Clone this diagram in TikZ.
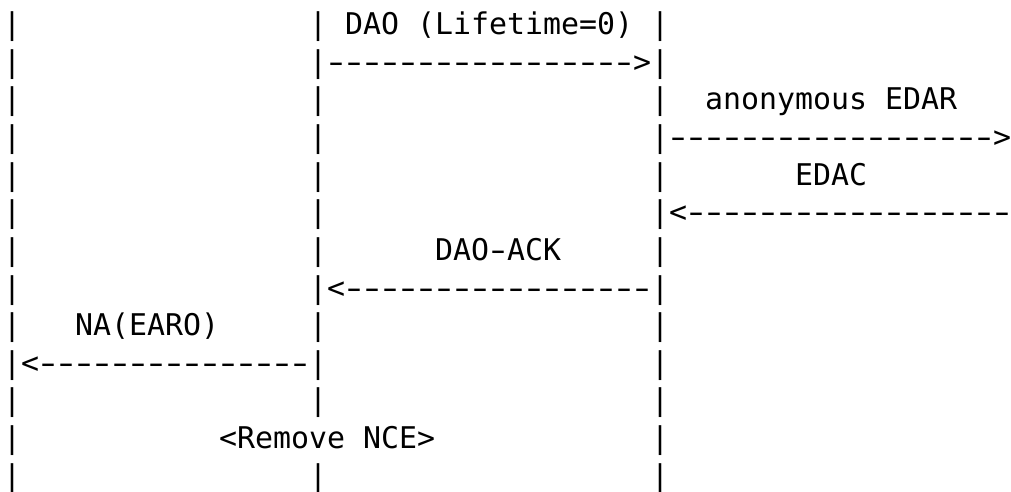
\documentclass[tikz,border=0pt]{standalone}
\usepackage{fontspec}
\setmonofont{DejaVu Sans Mono}
\tikzset{
  txt/.style={anchor=base west, inner sep=0pt, outer sep=0pt,
    font=\ttfamily\fontsize{29.9pt}{37.6pt}\selectfont, text=black}
}
% a hyphen stretched to the length of the reference's dashes, in one character cell
\newcommand{\hy}{\makebox[18pt][c]{\scalebox{1.5}[1]{-}}}
\newcommand{\dsh}[1]{\foreach \i in {1,...,#1}{\hy}}
\begin{document}
\begin{tikzpicture}[x=1pt,y=-1pt]
\useasboundingbox (0,0) rectangle (1011,492);
% lifelines made of bar characters: x = 3 + 18*col, baseline = 34.8 + 37.6*(row-1)
\foreach \r in {1,...,13}{
  \node[txt] (bA\r) at ({3+18*0},{34.8+37.6*(\r-1)}) {|};
  \node[txt] (bC\r) at ({3+18*36},{34.8+37.6*(\r-1)}) {|};
}
\foreach \r in {1,...,11,13}{
  \node[txt] (bB\r) at ({3+18*17},{34.8+37.6*(\r-1)}) {|};
}
% messages
\node[txt] (t1)  at ({3+18*19},{34.8+37.6*0})  {DAO (Lifetime=0)};
\node[txt] (t2)  at ({3+18*18},{34.8+37.6*1})  {\dsh{17}>};
\node[txt] (t3)  at ({3+18*39},{34.8+37.6*2})  {anonymous EDAR};
\node[txt] (t4)  at ({3+18*37},{34.8+37.6*3})  {\dsh{18}>};
\node[txt] (t5)  at ({3+18*44},{34.8+37.6*4})  {EDAC};
\node[txt] (t6)  at ({3+18*37},{34.8+37.6*5})  {<\dsh{18}};
\node[txt] (t7)  at ({3+18*24},{34.8+37.6*6})  {DAO\hy ACK};
\node[txt] (t8)  at ({3+18*18},{34.8+37.6*7})  {<\dsh{17}};
\node[txt] (t9)  at ({3+18*4},{34.8+37.6*8})   {NA(EARO)};
\node[txt] (t10) at ({3+18*1},{34.8+37.6*9})   {<\dsh{15}};
\node[txt] (t12) at ({3+18*12},{34.8+37.6*11}) {<Remove NCE>};
\end{tikzpicture}
\end{document}
